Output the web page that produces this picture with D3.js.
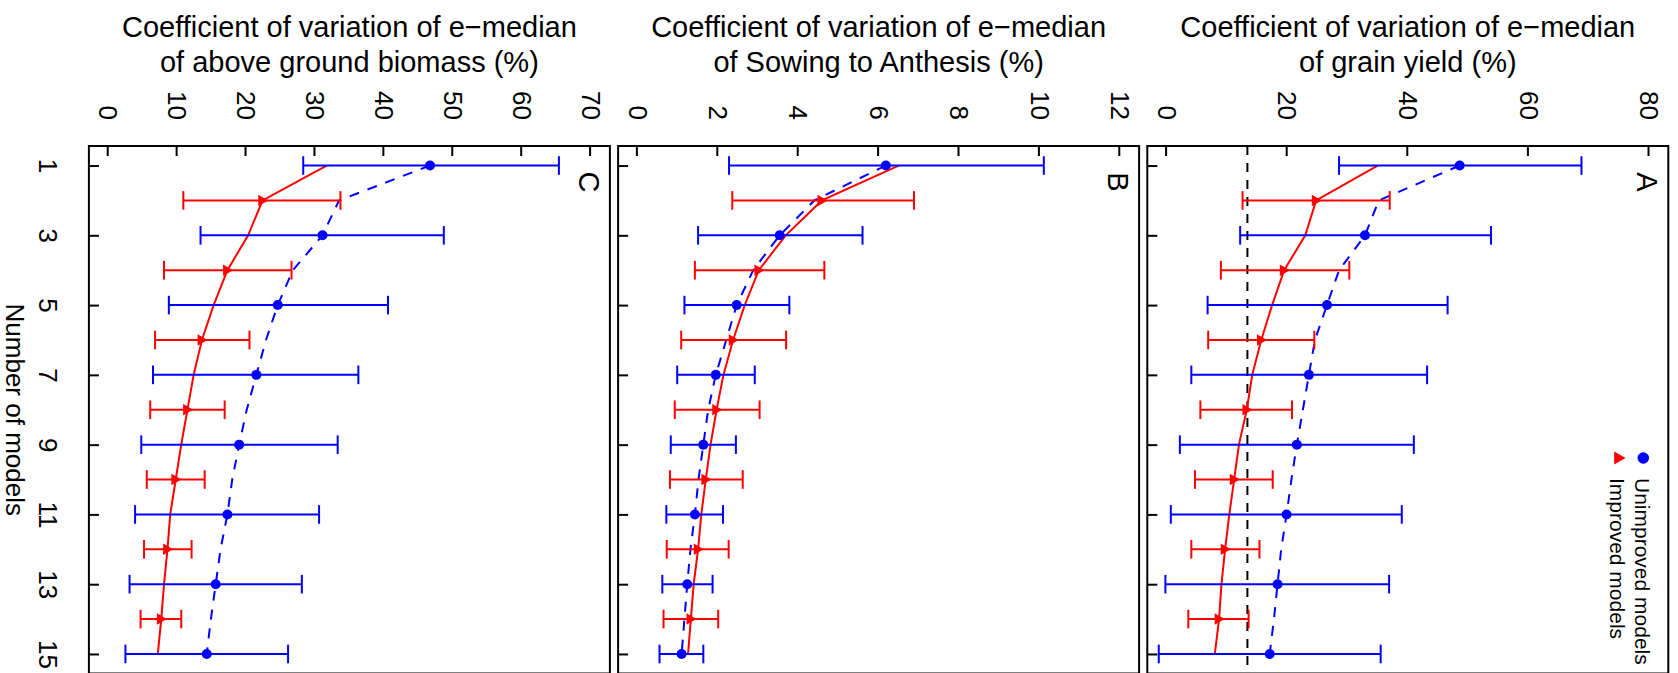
<!DOCTYPE html>
<html>
<head>
<meta charset="utf-8">
<script src="https://cdn.jsdelivr.net/npm/d3@7"></script>
<style>
  body { margin: 0; background: #fff; }
  text { font-family: "Liberation Sans", Arial, Helvetica, sans-serif; fill: #000; }
</style>
</head>
<body>
<div id="plot"></div>
<script>
// number of models on the x axis (original orientation)
var models = [1,2,3,4,5,6,7,8,9,10,11,12,13,14,15];
var oddModels = [1,3,5,7,9,11,13,15];
var evenModels = [2,4,6,8,10,12,14];

// A - grain yield
var aUnimp   = [48.6, 35.2, 32.9, 28.6, 26.6, 24.6, 23.6, 22.6, 21.6, 20.7, 19.9, 19.0, 18.4, 17.8, 17.1];
var aUnimpLo = [28.6, 12.2, 6.8, 4.1, 2.2, 0.7, -0.2, -1.3];
var aUnimpHi = [68.8, 53.8, 46.6, 43.2, 41.0, 39.0, 36.9, 35.5];
var aImp     = [35.0, 24.8, 23.0, 19.5, 17.5, 15.7, 14.2, 13.3, 12.0, 11.2, 10.4, 9.7, 9.1, 8.7, 8.0];
var aImpLo   = [12.6, 9.0, 6.9, 5.6, 4.7, 4.1, 3.6];
var aImpHi   = [37.0, 30.3, 24.5, 20.8, 17.6, 15.4, 13.6];
var aRef = 13.4;

// B - sowing to anthesis
var bUnimp   = [6.18, 4.40, 3.54, 2.88, 2.47, 2.21, 1.95, 1.76, 1.64, 1.52, 1.43, 1.32, 1.24, 1.17, 1.10];
var bUnimpLo = [2.28, 1.51, 1.17, 0.99, 0.83, 0.72, 0.62, 0.55];
var bUnimpHi = [10.11, 5.60, 3.78, 2.92, 2.45, 2.13, 1.87, 1.64];
var bImp     = [6.50, 4.59, 3.69, 3.02, 2.67, 2.38, 2.14, 1.97, 1.82, 1.70, 1.59, 1.51, 1.40, 1.33, 1.26];
var bImpLo   = [2.36, 1.43, 1.09, 0.93, 0.81, 0.73, 0.65];
var bImpHi   = [6.88, 4.65, 3.70, 3.04, 2.62, 2.27, 2.01];

// C - above ground biomass
var cUnimp   = [46.7, 33.5, 31.1, 26.8, 24.6, 22.9, 21.5, 20.1, 19.0, 18.0, 17.3, 16.3, 15.6, 14.9, 14.3];
var cUnimpLo = [28.3, 13.4, 8.8, 6.5, 4.8, 3.9, 3.1, 2.5];
var cUnimpHi = [65.4, 48.7, 40.6, 36.3, 33.3, 30.6, 28.1, 26.1];
var cImp     = [31.7, 22.4, 20.3, 17.3, 15.3, 13.6, 12.4, 11.5, 10.6, 9.8, 9.0, 8.6, 8.1, 7.7, 7.2];
var cImpLo   = [10.9, 8.1, 6.8, 6.1, 5.6, 5.2, 4.7];
var cImpHi   = [33.7, 26.6, 20.5, 16.9, 14.0, 12.1, 10.6];

var aTicks = [0, 20, 40, 60, 80];
var bTicks = [0, 2, 4, 6, 8, 10, 12];
var cTicks = [0, 10, 20, 30, 40, 50, 60, 70];

var titles = ["of grain yield (%)", "of Sowing to Anthesis (%)", "of above ground biomass (%)"];
var titleTop = "Coefficient of variation of e\u2212median";
var letters = ["A", "B", "C"];
var legendLabels = ["Unimproved models", "Improved models"];

var panels = [
  {letter: letters[0], title: titles[0], ticks: aTicks, un: aUnimp, unLo: aUnimpLo, unHi: aUnimpHi, im: aImp, imLo: aImpLo, imHi: aImpHi, ref: aRef},
  {letter: letters[1], title: titles[1], ticks: bTicks, un: bUnimp, unLo: bUnimpLo, unHi: bUnimpHi, im: bImp, imLo: bImpLo, imHi: bImpHi},
  {letter: letters[2], title: titles[2], ticks: cTicks, un: cUnimp, unLo: cUnimpLo, unHi: cUnimpHi, im: cImp, imLo: cImpLo, imHi: cImpHi}
];

// the picture is an R plot turned a quarter turn clockwise:
// everything is drawn upright in a 673 x 1678 frame, then rotated
var W = 1678, H = 673;
var blue = "#0000ff", red = "#ff0000";
var lw = 2;

var svg = d3.select("#plot").append("svg")
    .attr("width", W)
    .attr("height", H);

var root = svg.append("g")
    .attr("transform", "translate(" + W + ",0) rotate(90)");

var boxL = 146, boxR = 673.5;
var x = d3.scaleLinear()
    .domain([1 - 0.56, 15 + 0.56])
    .range([boxL, boxR]);

var panelH = 521, panelTop0 = 9.7, panelStep = 529.2;
var capW = 9.3;
var tri = d3.symbol().type(d3.symbolTriangle).size(58);

panels.forEach(function(p, k){
  var top = panelTop0 + k * panelStep;
  var ymax = p.ticks[p.ticks.length - 1];
  var y = d3.scaleLinear()
      .domain([-0.04 * ymax, 1.04 * ymax])
      .range([top + panelH, top]);

  var g = root.append("g");

  // reference line (panel A only)
  if (p.ref !== undefined) {
    g.append("line")
      .attr("x1", boxL).attr("x2", boxR)
      .attr("y1", y(p.ref)).attr("y2", y(p.ref))
      .attr("stroke", "#000")
      .attr("stroke-width", lw)
      .attr("stroke-dasharray", "9,8");
  }

  var line = d3.line()
      .x(function(d, i){ return x(models[i]); })
      .y(function(d){ return y(d); });

  g.append("path")
    .datum(p.un)
    .attr("d", line)
    .attr("fill", "none")
    .attr("stroke", blue)
    .attr("stroke-width", lw)
    .attr("stroke-dasharray", "10,9");

  g.append("path")
    .datum(p.im)
    .attr("d", line)
    .attr("fill", "none")
    .attr("stroke", red)
    .attr("stroke-width", lw);

  // error bars
  function bars(ms, lo, hi, col){
    var eb = g.append("g").attr("stroke", col).attr("stroke-width", lw);
    ms.forEach(function(m, i){
      eb.append("line")
        .attr("x1", x(m)).attr("x2", x(m))
        .attr("y1", y(lo[i])).attr("y2", y(hi[i]));
      [lo[i], hi[i]].forEach(function(v){
        eb.append("line")
          .attr("x1", x(m) - capW).attr("x2", x(m) + capW)
          .attr("y1", y(v)).attr("y2", y(v));
      });
    });
  }
  bars(oddModels, p.unLo, p.unHi, blue);
  bars(evenModels, p.imLo, p.imHi, red);

  g.selectAll(".pt")
    .data(oddModels)
    .enter().append("circle")
      .attr("cx", function(m){ return x(m); })
      .attr("cy", function(m){ return y(p.un[m - 1]); })
      .attr("r", 5)
      .attr("fill", blue);

  g.selectAll(".tr")
    .data(evenModels)
    .enter().append("path")
      .attr("d", tri)
      .attr("fill", red)
      .attr("transform", function(m){ return "translate(" + x(m) + "," + (y(p.im[m - 1]) + 1) + ")"; });

  // value axis (left in the R plot)
  var ya = g.append("g")
      .attr("transform", "translate(" + boxL + ",0)")
      .call(d3.axisLeft(y).tickValues(p.ticks).tickSizeInner(-10).tickSizeOuter(0).tickPadding(26));
  ya.select(".domain").remove();
  ya.selectAll("line").attr("stroke-width", lw);
  ya.selectAll("text").attr("font-size", 26).attr("font-family", null);

  // model axis (bottom in the R plot)
  var xa = g.append("g")
      .attr("transform", "translate(0," + (top + panelH) + ")")
      .call(d3.axisBottom(x).tickValues(oddModels).tickSizeInner(-10).tickSizeOuter(0).tickPadding(31.5)
            .tickFormat(k == 2 ? d3.format("d") : ""));
  xa.select(".domain").remove();
  xa.selectAll("line").attr("stroke-width", lw);
  xa.selectAll("text").attr("font-size", 26).attr("font-family", null);

  g.append("rect")
    .attr("x", boxL).attr("y", top)
    .attr("width", boxR - boxL).attr("height", panelH)
    .attr("fill", "none")
    .attr("stroke", "#000")
    .attr("stroke-width", lw);

  // title, two lines, reading upward like an R ylab
  var cy = top + panelH / 2;
  [titleTop, p.title].forEach(function(t, i){
    g.append("text")
      .attr("transform", "translate(" + (37 + i * 34.5) + "," + cy + ") rotate(-90)")
      .attr("text-anchor", "middle")
      .attr("font-size", 29)
      .text(t);
  });

  g.append("text")
    .attr("x", 182)
    .attr("y", top + 21)
    .attr("dy", "0.35em")
    .attr("text-anchor", "middle")
    .attr("font-size", 29)
    .text(p.letter);
});

root.append("text")
  .attr("x", (boxL + boxR) / 2)
  .attr("y", 1663)
  .attr("dy", "0.35em")
  .attr("text-anchor", "middle")
  .attr("font-size", 26)
  .text("Number of models");

// legend, top right of panel A
var leg = root.append("g");
leg.append("circle")
  .attr("cx", 458).attr("cy", 34.7)
  .attr("r", 5.8)
  .attr("fill", blue);
leg.append("path")
  .attr("d", d3.symbol().type(d3.symbolTriangle).size(75))
  .attr("fill", red)
  .attr("transform", "translate(458,60)");
legendLabels.forEach(function(t, i){
  leg.append("text")
    .attr("x", 478)
    .attr("y", 35.5 + i * 25)
    .attr("dy", "0.35em")
    .attr("font-size", 21)
    .text(t);
});
</script>
</body>
</html>
